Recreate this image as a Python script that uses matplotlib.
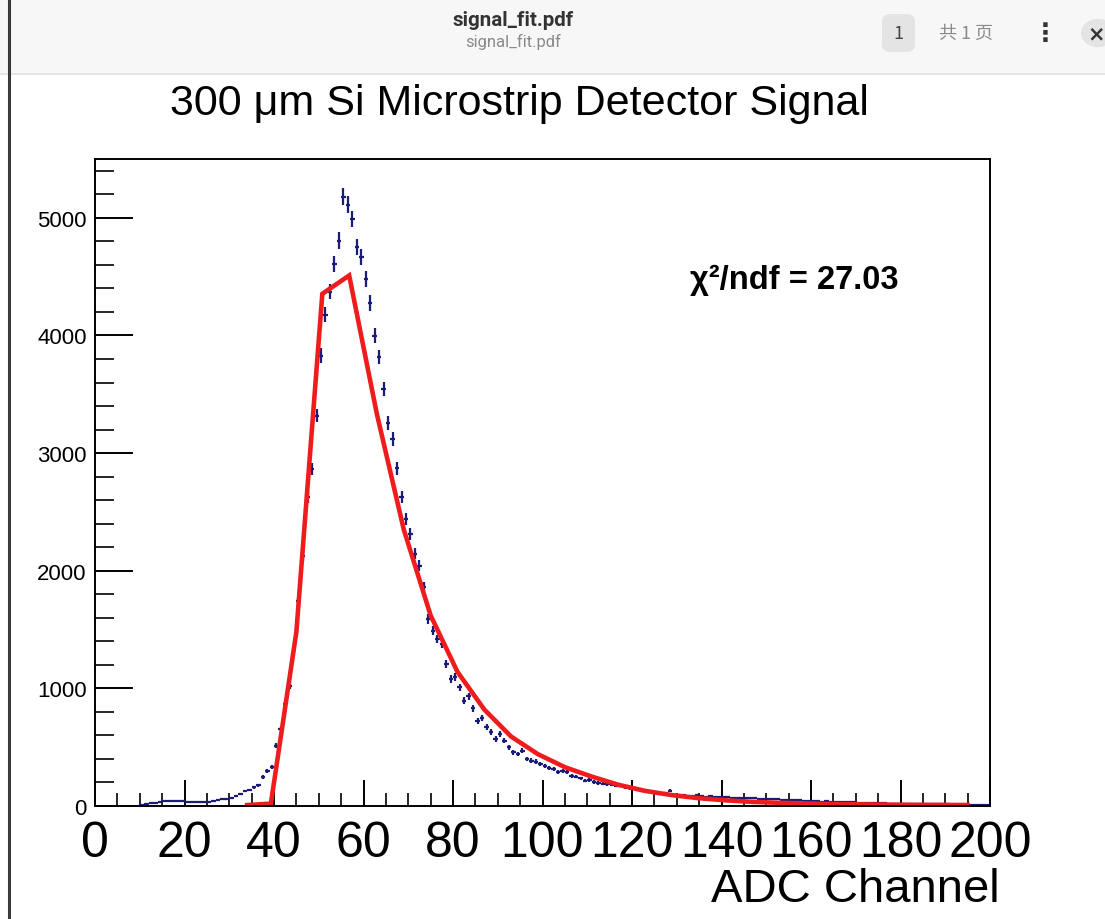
import matplotlib.pyplot as plt
import matplotlib.patches as mpatches
import numpy as np

# histogram: 1-channel bins, lower edges 10..199
first_bin = 10
counts = np.array([
    5, 15, 22, 28, 32, 40, 45, 43, 43, 40,            # 10-19
    37, 37, 33, 31, 31, 33, 40, 50, 57, 60,           # 20-29
    70, 82, 100, 128, 136, 160, 175, 245, 300, 330,   # 30-39
    513, 655, 867, 1023, 1349, 1746, 2129, 2625, 2866, 3319,   # 40-49
    3829, 4175, 4373, 4609, 4807, 5180, 5110, 4990, 4750, 4665,  # 50-59
    4481, 4277, 3998, 3815, 3546, 3255, 3120, 2870, 2625, 2440,  # 60-69
    2313, 2143, 2043, 1860, 1590, 1491, 1420, 1378, 1207, 1080,  # 70-79
    1094, 1009, 895, 931, 831, 725, 746, 669, 627, 570,          # 80-89
    612, 555, 499, 456, 442, 470, 400, 385, 376, 357,            # 90-99
    338, 321, 315, 291, 300, 286, 258, 250, 235, 215,            # 100-109
    220, 205, 196, 190, 185, 180, 173, 173, 159, 150,            # 110-119
    145, 139, 130, 125, 118, 108, 102, 110, 130, 90,             # 120-129
    95, 92, 88, 85, 90, 82, 80, 88, 78, 76,                      # 130-139
    75, 75, 70, 72, 68, 66, 68, 68, 62, 60,                      # 140-149
    62, 58, 60, 55, 52, 51, 48, 47, 45, 44,                      # 150-159
    42, 40, 38, 40, 36, 34, 35, 32, 30, 31,                      # 160-169
    28, 27, 26, 25, 24, 25, 22, 21, 20, 21,                      # 170-179
    19, 18, 18, 17, 16, 16, 15, 14, 14, 13,                      # 180-189
    13, 12, 12, 11, 11, 10, 8, 8, 9, 12,                         # 190-199
])

# fit function as drawn (polyline vertices)
fit_x = [34, 39.3, 45, 50.8, 56.8, 63, 69, 75, 81, 87, 93, 99, 105, 111,
         117, 123, 129, 135, 141, 147, 153, 159, 165, 171, 177, 183, 189, 195]
fit_y = [8, 20, 1480, 4354, 4510, 3330, 2350, 1620, 1140, 820, 590, 440, 330, 250,
         180, 128, 92, 66, 48, 35, 27, 21, 17, 14, 12, 10, 9, 8]

title = "300 \u03bcm Si Microstrip Detector Signal"
chi2_text = "\u03c7\u00b2/ndf = 27.03"
x_ticks = [0, 20, 40, 60, 80, 100, 120, 140, 160, 180, 200]
y_ticks = [0, 1000, 2000, 3000, 4000, 5000]

plt.rcParams['font.family'] = ['Liberation Sans', 'DejaVu Sans']

fig = plt.figure(figsize=(11.05, 9.2), dpi=100)

# pdf viewer header bar
fig.patches.append(mpatches.Rectangle((0, 1 - 75 / 920), 1, 75 / 920, transform=fig.transFigure,
                                      facecolor='#f7f7f7', edgecolor='none', zorder=0))
fig.lines.append(plt.Line2D([0, 1], [1 - 75 / 920] * 2, transform=fig.transFigure,
                            color='#e2e2e2', lw=1.2))
fig.lines.append(plt.Line2D([9 / 1105] * 2, [0, 1], transform=fig.transFigure,
                            color='#3a3a3a', lw=2.2))
fig.text(513 / 1105, 1 - 20 / 920, "signal_fit.pdf", ha='center', va='center',
         fontsize=14.8, fontweight='bold', color='#333333', family=['Roboto', 'DejaVu Sans'])
fig.text(513 / 1105, 1 - 42 / 920, "signal_fit.pdf", ha='center', va='center',
         fontsize=12, color='#8a8a8a', family=['Roboto', 'DejaVu Sans'])
fig.patches.append(mpatches.FancyBboxPatch((882 / 1105, 1 - 53 / 920), 33 / 1105, 38 / 920,
                                           boxstyle='round,pad=0,rounding_size=0.008',
                                           transform=fig.transFigure, facecolor='#e4e4e4',
                                           edgecolor='none'))
fig.text(898 / 1105, 1 - 34 / 920, "1", ha='center', va='center', fontsize=13,
         color='#444444', family=['Noto Sans CJK SC', 'DejaVu Sans'])
fig.text(966 / 1105, 1 - 34 / 920, "共 1 页", ha='center', va='center', fontsize=13,
         color='#8a8a8a', family=['Noto Sans CJK SC', 'DejaVu Sans'])
fig.text(1045 / 1105, 1 - 34 / 920, "\u22ee", ha='center', va='center', fontsize=18,
         fontweight='bold', color='#333333', family=['DejaVu Sans'])
fig.patches.append(mpatches.Circle((1098 / 1105, 1 - 34 / 920), 17 / 1105,
                                   transform=fig.transFigure, facecolor='#e4e4e4',
                                   edgecolor='none'))
fig.text(1096 / 1105, 1 - 34 / 920, "\u00d7", ha='center', va='center', fontsize=15,
         fontweight='bold', color='#333333', family=['DejaVu Sans'])

ax = fig.add_axes([95 / 1105, 113 / 920, 895 / 1105, 647 / 920])

centers = np.arange(first_bin, first_bin + len(counts)) + 0.5
ax.errorbar(centers, counts, yerr=np.sqrt(counts), xerr=0.5, fmt='none',
            ecolor='#1b1b78', elinewidth=1.6, capsize=0)
ax.plot(fit_x, fit_y, color='#ee1c1c', lw=3.3, solid_joinstyle='miter')

ax.set_xlim(0, 200)
ax.set_ylim(0, 5500)
ax.set_xticks(x_ticks)
ax.set_xticks(np.arange(0, 201, 5), minor=True)
ax.set_yticks(y_ticks)
ax.set_yticks(np.arange(0, 5501, 200), minor=True)
ax.set_xticklabels([str(v) for v in x_ticks], fontsize=36)
ax.set_yticklabels([str(v) for v in y_ticks], fontsize=16)

ax.xaxis.set_tick_params(which='major', direction='in', length=19, width=1.4, pad=10)
ax.xaxis.set_tick_params(which='minor', direction='in', length=9.5, width=1.2)
ax.yaxis.set_tick_params(which='major', direction='in', length=27, width=1.4, pad=6)
ax.yaxis.set_tick_params(which='minor', direction='in', length=13.5, width=1.2)
for s in ax.spines.values():
    s.set_linewidth(1.4)

fig.text(1000 / 1105, 1 - 890 / 920, "ADC Channel", ha='right', va='center', fontsize=34)
fig.text(519 / 1105, 1 - 104 / 920, title, ha='center', va='center', fontsize=31)
fig.text(690 / 1105, 1 - 280 / 920, chi2_text, ha='left', va='center', fontsize=23.5,
         fontweight='bold')

fig.savefig('out.png', dpi=100)
